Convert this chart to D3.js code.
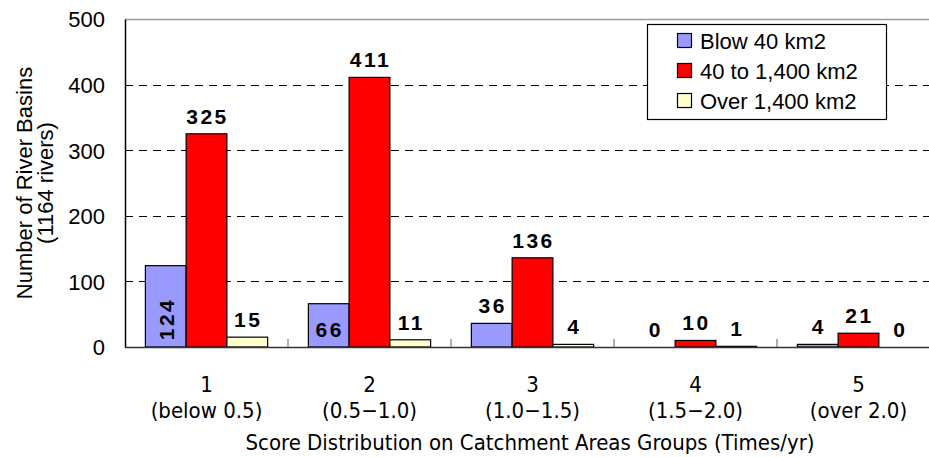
<!DOCTYPE html>
<html>
<head>
<meta charset="utf-8">
<script src="https://cdn.jsdelivr.net/npm/d3@7"></script>
<style>
  html, body { margin: 0; padding: 0; background: #fff; }
  svg { display: block; }
  .sans { font-family: "Liberation Sans", Arimo, Arial, sans-serif; }
  .narrow { font-family: "Liberation Sans Narrow", "DejaVu Sans Condensed", "Arial Narrow", sans-serif; }
</style>
</head>
<body>
<svg id="chart" width="929" height="457"></svg>
<script>
// ---- data ----
const categories = ["1", "2", "3", "4", "5"];
const categorySubLabels = ["(below 0.5)", "(0.5\u22121.0)", "(1.0\u22121.5)", "(1.5\u22122.0)", "(over 2.0)"];
const seriesNames = ["Blow 40 km2", "40 to 1,400 km2", "Over 1,400 km2"];
const blowValues = [124, 66, 36, 0, 4];
const midValues = [325, 411, 136, 10, 21];
const overValues = [15, 11, 4, 1, 0];
const yTicks = [0, 100, 200, 300, 400, 500];
const seriesColors = ["#9999ff", "#ff0000", "#ffffcc"];
// labels drawn inside their bars: [category index, series index, rotated]
const insideLabels = [[0, 0, true], [1, 0, false]];

const seriesValues = [blowValues, midValues, overValues];

(function () {
const svg = d3.select("#chart");
const mLeft = 125, mRight = 940, mTop = 19, mBottom = 347;

const x = d3.scaleBand().domain(categories).range([mLeft, mRight]).paddingInner(0).paddingOuter(0);
const x1 = d3.scaleBand().domain(d3.range(seriesNames.length)).range([0, x.bandwidth()]).paddingInner(0).paddingOuter(0.5);
const y = d3.scaleLinear().domain([0, 500]).range([mBottom, mTop]);

// top border line
svg.append("line").attr("x1", mLeft).attr("x2", 929).attr("y1", mTop + 0.5).attr("y2", mTop + 0.5)
  .attr("stroke", "#9a9a9a").attr("stroke-width", 1.5);

// gridlines
svg.append("g").selectAll("line").data(yTicks.filter(t => t > 0 && t < 500)).join("line")
  .attr("x1", mLeft).attr("x2", 929)
  .attr("y1", d => Math.round(y(d)) + 0.5).attr("y2", d => Math.round(y(d)) + 0.5)
  .attr("stroke", "#000").attr("stroke-width", 1).attr("stroke-dasharray", "8,6");

// y axis
const yAxis = d3.axisLeft(y).tickValues(yTicks).tickSize(0).tickPadding(20);
const gy = svg.append("g").attr("transform", `translate(${mLeft},0)`).call(yAxis);
gy.attr("font-family", null).attr("font-size", null);
gy.select(".domain").attr("stroke", "#000").attr("stroke-width", 1.5);
gy.selectAll("text").attr("class", "sans").attr("font-size", 22).attr("fill", "#000").attr("dy", "0.36em");

// bars
const groups = svg.append("g").selectAll("g").data(categories).join("g")
  .attr("transform", d => `translate(${x(d)},0)`);
groups.selectAll("rect").data((c, ci) => seriesValues.map((vals, si) => ({ ci, si, v: vals[ci] })).filter(d => d.v > 0))
  .join("rect")
  .attr("x", d => x1(d.si))
  .attr("y", d => y(d.v))
  .attr("width", x1.bandwidth())
  .attr("height", d => y(0) - y(d.v))
  .attr("fill", d => seriesColors[d.si])
  .attr("stroke", "#000").attr("stroke-width", 1.2);

// x axis line and category separators
svg.append("line").attr("x1", mLeft).attr("x2", 929).attr("y1", mBottom + 0.5).attr("y2", mBottom + 0.5)
  .attr("stroke", "#333").attr("stroke-width", 1.5);
svg.append("g").selectAll("line").data(categories.slice(1)).join("line")
  .attr("x1", d => x(d)).attr("x2", d => x(d))
  .attr("y1", mBottom - 8).attr("y2", mBottom)
  .attr("stroke", "#777").attr("stroke-width", 1.2);

// value labels
groups.each(function (c, ci) {
  const g = d3.select(this);
  seriesValues.forEach((vals, si) => {
    const v = vals[ci];
    const cx = x1(si) + x1.bandwidth() / 2;
    const inside = insideLabels.find(a => a[0] === ci && a[1] === si);
    const t = g.append("text").attr("class", "sans")
      .attr("font-weight", "bold").attr("font-size", 21)
      .attr("letter-spacing", 2.5).attr("fill", "#000").attr("text-anchor", "middle")
      .text(v);
    if (inside && inside[2]) {
      t.attr("transform", `translate(${cx + 8},${y(0) - 28}) rotate(-90)`);
    } else if (inside) {
      t.attr("x", cx + 1).attr("y", y(0) - 10);
    } else {
      t.attr("x", cx + 1).attr("y", y(v) - 10);
    }
  });
});

// x tick labels
const xl = svg.append("g").selectAll("g").data(categories).join("g");
xl.append("text").attr("class", "narrow").attr("x", d => x(d) + x.bandwidth() / 2).attr("y", 392)
  .attr("text-anchor", "middle").attr("font-size", 22).text(d => d);
xl.append("text").attr("class", "narrow").attr("x", d => x(d) + x.bandwidth() / 2).attr("y", 418)
  .attr("text-anchor", "middle").attr("font-size", 22)
  .text((d, i) => categorySubLabels[i]);

// x title
svg.append("text").attr("class", "narrow").attr("x", 530).attr("y", 450).attr("text-anchor", "middle")
  .attr("font-size", 22)
  .text("Score Distribution on Catchment Areas Groups (Times/yr)");

// y title
svg.append("text").attr("class", "sans").attr("transform", "translate(32,183) rotate(-90)").attr("text-anchor", "middle")
  .attr("font-size", 22)
  .text("Number of River Basins");
svg.append("text").attr("class", "sans").attr("transform", "translate(53,183) rotate(-90)").attr("text-anchor", "middle")
  .attr("font-size", 22)
  .text("(1164 rivers)");

// legend
const lg = svg.append("g");
lg.append("rect").attr("x", 647.5).attr("y", 24.5).attr("width", 239).attr("height", 95)
  .attr("fill", "#fff").attr("stroke", "#000").attr("stroke-width", 1.2);
const rows = lg.selectAll("g.row").data(seriesNames).join("g").attr("class", "row")
  .attr("transform", (d, i) => `translate(0,${41 + i * 30})`);
rows.append("rect").attr("x", 677.5).attr("y", -7.5).attr("width", 14).attr("height", 14)
  .attr("fill", (d, i) => seriesColors[i]).attr("stroke", "#000").attr("stroke-width", 1.2);
rows.append("text").attr("class", "sans").attr("x", 700).attr("y", 0).attr("dy", "0.36em")
  .attr("font-size", 22).text(d => d);
})();
</script>
</body>
</html>
